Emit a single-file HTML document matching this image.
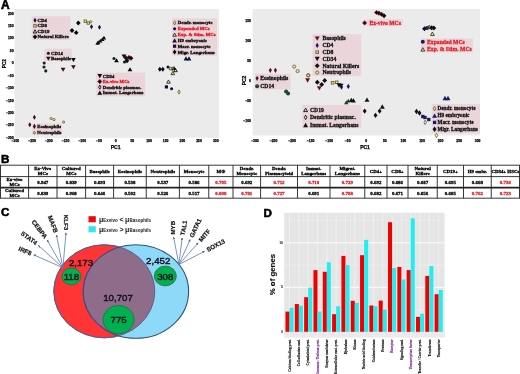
<!DOCTYPE html>
<html><head><meta charset="utf-8"><title>Figure</title>
<style>html,body{margin:0;padding:0;background:#fff;} body{width:520px;height:374px;overflow:hidden;} svg{display:block;will-change:transform;filter:blur(0.3px);}</style>
</head><body>
<svg width="520" height="374" viewBox="0 0 520 374">
<rect width="520" height="374" fill="#fff"/>
<text x="0.9" y="8.6" font-size="12" stroke="#000" stroke-width="0.55" style="font-family:'Liberation Sans',sans-serif;font-weight:bold">A</text>
<rect x="14.6" y="9" width="204.4" height="128.8" fill="#ebebeb"/>
<text x="13.6" y="138.90" font-size="3.4" text-anchor="end" stroke="#000" stroke-width="0.25" style="font-family:'Liberation Sans',sans-serif;font-weight:bold">&#8722;300</text>
<text x="13.6" y="126.46" font-size="3.4" text-anchor="end" stroke="#000" stroke-width="0.25" style="font-family:'Liberation Sans',sans-serif;font-weight:bold">&#8722;250</text>
<text x="13.6" y="114.02" font-size="3.4" text-anchor="end" stroke="#000" stroke-width="0.25" style="font-family:'Liberation Sans',sans-serif;font-weight:bold">&#8722;200</text>
<text x="13.6" y="101.58" font-size="3.4" text-anchor="end" stroke="#000" stroke-width="0.25" style="font-family:'Liberation Sans',sans-serif;font-weight:bold">&#8722;150</text>
<text x="13.6" y="89.14" font-size="3.4" text-anchor="end" stroke="#000" stroke-width="0.25" style="font-family:'Liberation Sans',sans-serif;font-weight:bold">&#8722;100</text>
<text x="13.6" y="76.70" font-size="3.4" text-anchor="end" stroke="#000" stroke-width="0.25" style="font-family:'Liberation Sans',sans-serif;font-weight:bold">&#8722;50</text>
<text x="13.6" y="64.26" font-size="3.4" text-anchor="end" stroke="#000" stroke-width="0.25" style="font-family:'Liberation Sans',sans-serif;font-weight:bold">0</text>
<text x="13.6" y="51.82" font-size="3.4" text-anchor="end" stroke="#000" stroke-width="0.25" style="font-family:'Liberation Sans',sans-serif;font-weight:bold">50</text>
<text x="13.6" y="39.38" font-size="3.4" text-anchor="end" stroke="#000" stroke-width="0.25" style="font-family:'Liberation Sans',sans-serif;font-weight:bold">100</text>
<text x="13.6" y="26.94" font-size="3.4" text-anchor="end" stroke="#000" stroke-width="0.25" style="font-family:'Liberation Sans',sans-serif;font-weight:bold">150</text>
<text x="13.6" y="14.50" font-size="3.4" text-anchor="end" stroke="#000" stroke-width="0.25" style="font-family:'Liberation Sans',sans-serif;font-weight:bold">200</text>
<text x="15.43" y="141.90" font-size="3.4" text-anchor="middle" stroke="#000" stroke-width="0.25" style="font-family:'Liberation Sans',sans-serif;font-weight:bold">&#8722;300</text>
<text x="32.12" y="141.90" font-size="3.4" text-anchor="middle" stroke="#000" stroke-width="0.25" style="font-family:'Liberation Sans',sans-serif;font-weight:bold">&#8722;250</text>
<text x="48.82" y="141.90" font-size="3.4" text-anchor="middle" stroke="#000" stroke-width="0.25" style="font-family:'Liberation Sans',sans-serif;font-weight:bold">&#8722;200</text>
<text x="65.52" y="141.90" font-size="3.4" text-anchor="middle" stroke="#000" stroke-width="0.25" style="font-family:'Liberation Sans',sans-serif;font-weight:bold">&#8722;150</text>
<text x="82.21" y="141.90" font-size="3.4" text-anchor="middle" stroke="#000" stroke-width="0.25" style="font-family:'Liberation Sans',sans-serif;font-weight:bold">&#8722;100</text>
<text x="98.91" y="141.90" font-size="3.4" text-anchor="middle" stroke="#000" stroke-width="0.25" style="font-family:'Liberation Sans',sans-serif;font-weight:bold">&#8722;50</text>
<text x="115.60" y="141.90" font-size="3.4" text-anchor="middle" stroke="#000" stroke-width="0.25" style="font-family:'Liberation Sans',sans-serif;font-weight:bold">0</text>
<text x="132.29" y="141.90" font-size="3.4" text-anchor="middle" stroke="#000" stroke-width="0.25" style="font-family:'Liberation Sans',sans-serif;font-weight:bold">50</text>
<text x="148.99" y="141.90" font-size="3.4" text-anchor="middle" stroke="#000" stroke-width="0.25" style="font-family:'Liberation Sans',sans-serif;font-weight:bold">100</text>
<text x="165.69" y="141.90" font-size="3.4" text-anchor="middle" stroke="#000" stroke-width="0.25" style="font-family:'Liberation Sans',sans-serif;font-weight:bold">150</text>
<text x="182.38" y="141.90" font-size="3.4" text-anchor="middle" stroke="#000" stroke-width="0.25" style="font-family:'Liberation Sans',sans-serif;font-weight:bold">200</text>
<text x="199.07" y="141.90" font-size="3.4" text-anchor="middle" stroke="#000" stroke-width="0.25" style="font-family:'Liberation Sans',sans-serif;font-weight:bold">250</text>
<text x="215.77" y="141.90" font-size="3.4" text-anchor="middle" stroke="#000" stroke-width="0.25" style="font-family:'Liberation Sans',sans-serif;font-weight:bold">300</text>
<text x="115.6" y="149.1" font-size="5" text-anchor="middle" stroke="#000" stroke-width="0.25" style="font-family:'Liberation Sans',sans-serif;font-weight:bold">PC1</text>
<text transform="translate(5.8 63.6) rotate(-90)" font-size="4.7" text-anchor="middle" stroke="#000" stroke-width="0.25" style="font-family:'Liberation Sans',sans-serif;font-weight:bold">PC2</text>
<rect x="31.8" y="16.3" width="38.50" height="23.60" fill="#e9d5da"/>
<path d="M35.00 17.77L36.54 20.30L35.00 22.83L33.46 20.30Z" fill="#101040"/>
<text x="37.6" y="21.88" font-size="4.8" fill="#111" stroke="#111" stroke-width="0.34" style="font-family:'Liberation Serif',serif;font-weight:bold">CD4</text>
<rect x="33.80" y="24.61" width="2.39" height="2.39" fill="none" stroke="#6e6622" stroke-width="0.94"/>
<text x="37.6" y="27.38" font-size="4.8" fill="#111" stroke="#111" stroke-width="0.34" style="font-family:'Liberation Serif',serif;font-weight:bold">CD8</text>
<path d="M35.00 29.77L36.82 32.98L33.18 32.98Z" fill="none" stroke="#080808" stroke-width="0.88" stroke-linejoin="round"/>
<text x="37.6" y="32.88" font-size="4.8" fill="#111" stroke="#111" stroke-width="0.34" style="font-family:'Liberation Serif',serif;font-weight:bold">CD19</text>
<path d="M35.00 34.38L37.31 36.80L35.00 39.22L32.69 36.80Z" fill="#080808"/>
<text x="37.6" y="38.38" font-size="4.8" fill="#111" stroke="#111" stroke-width="0.34" style="font-family:'Liberation Serif',serif;font-weight:bold">Natural Killers</text>
<rect x="44.5" y="48.6" width="27.10" height="12.40" fill="#e9d5da"/>
<circle cx="48.40" cy="53.20" r="1.54" fill="#0e2616"/>
<text x="51.1" y="54.78" font-size="4.8" fill="#111" stroke="#111" stroke-width="0.34" style="font-family:'Liberation Serif',serif;font-weight:bold">CD14</text>
<path d="M46.03 56.77L50.77 56.77L48.40 60.84Z" fill="#3e0e16"/>
<text x="51.1" y="60.38" font-size="4.8" fill="#111" stroke="#111" stroke-width="0.34" style="font-family:'Liberation Serif',serif;font-weight:bold">Basophils</text>
<rect x="96.3" y="72.6" width="48.80" height="23.70" fill="#e9d5da"/>
<path d="M97.44 74.06L102.16 74.06L99.80 78.13Z" fill="#080808"/>
<text x="102.7" y="77.68" font-size="4.8" fill="#111" stroke="#111" stroke-width="0.34" style="font-family:'Liberation Serif',serif;font-weight:bold">CD34</text>
<path d="M99.80 79.41L101.89 81.60L99.80 83.79L97.71 81.60Z" fill="#1a0508" stroke="#5a1420" stroke-width="0.55"/>
<text x="102.7" y="83.18" font-size="4.8" fill="#e0202a" stroke="#e0202a" stroke-width="0.34" style="font-family:'Liberation Serif',serif;font-weight:bold">Ex-vivo MCs</text>
<path d="M99.80 85.02L100.99 87.10L99.80 89.18L98.61 87.10Z" fill="none" stroke="#080808" stroke-width="0.88"/>
<text x="102.7" y="88.68" font-size="4.8" fill="#111" stroke="#111" stroke-width="0.34" style="font-family:'Liberation Serif',serif;font-weight:bold">Dendritic plasmac.</text>
<path d="M99.80 90.56L102.16 94.63L97.44 94.63Z" fill="#080808"/>
<text x="102.7" y="94.18" font-size="4.8" fill="#111" stroke="#111" stroke-width="0.34" style="font-family:'Liberation Serif',serif;font-weight:bold">Immat. Langerhans</text>
<rect x="172.0" y="18.4" width="45.00" height="37.20" fill="#e9d5da"/>
<path d="M174.60 20.82L175.79 22.90L174.60 24.98L173.41 22.90Z" fill="none" stroke="#6e6622" stroke-width="0.88"/>
<text x="177.8" y="24.48" font-size="4.8" fill="#111" stroke="#111" stroke-width="0.34" style="font-family:'Liberation Serif',serif;font-weight:bold">Dendr. monocyte</text>
<circle cx="174.60" cy="28.72" r="1.54" fill="#101040"/>
<text x="177.8" y="30.30" font-size="4.8" fill="#e0202a" stroke="#e0202a" stroke-width="0.34" style="font-family:'Liberation Serif',serif;font-weight:bold">Expanded MCs</text>
<path d="M174.60 33.00L176.41 36.23L172.78 36.23Z" fill="none" stroke="#2a2a0a" stroke-width="0.88" stroke-linejoin="round"/>
<text x="177.8" y="36.12" font-size="4.8" fill="#e0202a" stroke="#e0202a" stroke-width="0.34" style="font-family:'Liberation Serif',serif;font-weight:bold">Exp. &amp; Stim. MCs</text>
<path d="M174.60 38.33L176.97 42.39L172.23 42.39Z" fill="#101040"/>
<text x="177.8" y="41.94" font-size="4.8" fill="#111" stroke="#111" stroke-width="0.34" style="font-family:'Liberation Serif',serif;font-weight:bold">H9 embryonic</text>
<rect x="173.00" y="44.59" width="3.19" height="3.19" fill="#101040"/>
<text x="177.8" y="47.76" font-size="4.8" fill="#111" stroke="#111" stroke-width="0.34" style="font-family:'Liberation Serif',serif;font-weight:bold">Macr. monocyte</text>
<path d="M174.60 49.47L176.47 52.00L174.60 54.53L172.73 52.00Z" fill="#080808"/>
<text x="177.8" y="53.58" font-size="4.8" fill="#111" stroke="#111" stroke-width="0.34" style="font-family:'Liberation Serif',serif;font-weight:bold">Migr. Langerhans</text>
<rect x="32.1" y="123.6" width="30.00" height="11.00" fill="#e9d5da"/>
<path d="M34.40 123.87L35.94 126.40L34.40 128.93L32.86 126.40Z" fill="#3e0e16"/>
<text x="37.3" y="127.98" font-size="4.8" fill="#111" stroke="#111" stroke-width="0.34" style="font-family:'Liberation Serif',serif;font-weight:bold">Eosinophils</text>
<circle cx="34.40" cy="132.80" r="1.09" fill="none" stroke="#6e6622" stroke-width="0.94"/>
<text x="37.3" y="134.38" font-size="4.8" fill="#111" stroke="#111" stroke-width="0.34" style="font-family:'Liberation Serif',serif;font-weight:bold">Neutrophils</text>
<path d="M78.30 20.58L80.61 23.00L78.30 25.42L75.99 23.00Z" fill="#080808"/>
<path d="M72.00 28.08L74.31 30.50L72.00 32.92L69.69 30.50Z" fill="#080808"/>
<path d="M76.20 30.28L78.51 32.70L76.20 35.12L73.89 32.70Z" fill="#080808"/>
<rect x="84.11" y="20.00" width="2.39" height="2.39" fill="none" stroke="#6e6622" stroke-width="0.94"/>
<rect x="87.11" y="21.80" width="2.39" height="2.39" fill="none" stroke="#6e6622" stroke-width="0.94"/>
<circle cx="90.70" cy="21.80" r="1.09" fill="none" stroke="#6e6622" stroke-width="0.94"/>
<path d="M91.50 24.17L93.04 26.70L91.50 29.23L89.96 26.70Z" fill="#101040"/>
<path d="M99.50 24.77L101.04 27.30L99.50 29.83L97.96 27.30Z" fill="#101040"/>
<path d="M98.20 40.33L100.38 44.07L96.02 44.07Z" fill="#0a160d"/>
<path d="M100.30 38.73L102.48 42.47L98.12 42.47Z" fill="#0a160d"/>
<path d="M102.40 37.33L104.58 41.07L100.22 41.07Z" fill="#0a160d"/>
<path d="M104.00 35.73L106.18 39.47L101.82 39.47Z" fill="#0a160d"/>
<path d="M97.50 41.13L99.68 44.87L95.32 44.87Z" fill="#0a160d"/>
<circle cx="44.20" cy="63.00" r="1.54" fill="#0e2616"/>
<circle cx="44.00" cy="67.00" r="1.54" fill="#0e2616"/>
<circle cx="45.80" cy="70.90" r="1.54" fill="#0e2616"/>
<path d="M60.73 67.67L65.47 67.67L63.10 71.73Z" fill="#3e0e16"/>
<path d="M71.04 65.27L75.77 65.27L73.40 69.33Z" fill="#3e0e16"/>
<path d="M71.04 57.97L75.77 57.97L73.40 62.03Z" fill="#080808"/>
<circle cx="114.00" cy="58.50" r="1.54" fill="#0e2616"/>
<path d="M116.50 58.27L118.86 62.33L114.14 62.33Z" fill="#080808"/>
<path d="M121.64 54.47L126.36 54.47L124.00 58.53Z" fill="#080808"/>
<path d="M126.00 55.81L128.09 58.00L126.00 60.19L123.91 58.00Z" fill="#1a0508" stroke="#5a1420" stroke-width="0.55"/>
<path d="M129.00 55.31L131.09 57.50L129.00 59.69L126.91 57.50Z" fill="#1a0508" stroke="#5a1420" stroke-width="0.55"/>
<path d="M131.00 56.01L133.09 58.20L131.00 60.39L128.91 58.20Z" fill="#1a0508" stroke="#5a1420" stroke-width="0.55"/>
<circle cx="124.50" cy="62.00" r="1.54" fill="#0e2616"/>
<path d="M127.00 58.38L129.31 60.80L127.00 63.22L124.69 60.80Z" fill="#080808"/>
<path d="M130.00 67.17L132.37 71.23L127.64 71.23Z" fill="#080808"/>
<path d="M186.00 56.36L188.37 60.44L183.63 60.44Z" fill="#101040"/>
<path d="M189.00 56.36L191.37 60.44L186.63 60.44Z" fill="#101040"/>
<path d="M159.80 66.67L161.67 69.20L159.80 71.73L157.93 69.20Z" fill="#080808"/>
<path d="M162.80 66.67L164.67 69.20L162.80 71.73L160.93 69.20Z" fill="#080808"/>
<circle cx="168.00" cy="67.00" r="1.54" fill="#101040"/>
<rect x="169.31" y="67.31" width="2.39" height="2.39" fill="none" stroke="#6e6622" stroke-width="0.94"/>
<path d="M174.00 65.97L176.37 70.03L171.63 70.03Z" fill="#080808"/>
<path d="M175.50 68.47L177.31 71.69L173.69 71.69Z" fill="none" stroke="#080808" stroke-width="0.88" stroke-linejoin="round"/>
<path d="M172.50 66.92L173.69 69.00L172.50 71.08L171.31 69.00Z" fill="none" stroke="#6e6622" stroke-width="0.88"/>
<path d="M172.80 71.47L174.62 74.69L170.99 74.69Z" fill="none" stroke="#2a2a0a" stroke-width="0.88" stroke-linejoin="round"/>
<path d="M168.50 79.97L170.31 83.19L166.69 83.19Z" fill="none" stroke="#2a2a0a" stroke-width="0.88" stroke-linejoin="round"/>
<rect x="164.81" y="85.31" width="3.19" height="3.19" fill="#101040"/>
<circle cx="171.60" cy="88.70" r="1.54" fill="#101040"/>
<path d="M179.00 89.92L180.19 92.00L179.00 94.08L177.81 92.00Z" fill="none" stroke="#6e6622" stroke-width="0.88"/>
<path d="M34.40 114.77L35.94 117.30L34.40 119.83L32.86 117.30Z" fill="#3e0e16"/>
<path d="M29.80 122.27L31.34 124.80L29.80 127.33L28.26 124.80Z" fill="#3e0e16"/>
<circle cx="51.10" cy="118.50" r="1.09" fill="none" stroke="#6e6622" stroke-width="0.94"/>
<circle cx="54.00" cy="119.60" r="1.09" fill="none" stroke="#6e6622" stroke-width="0.94"/>
<circle cx="63.60" cy="122.10" r="1.09" fill="none" stroke="#6e6622" stroke-width="0.94"/>
<rect x="252.6" y="9" width="227.4" height="126.5" fill="#ebebeb"/>
<text x="251" y="122.40" font-size="3.4" text-anchor="end" stroke="#000" stroke-width="0.25" style="font-family:'Liberation Sans',sans-serif;font-weight:bold">&#8722;100</text>
<text x="251" y="102.40" font-size="3.4" text-anchor="end" stroke="#000" stroke-width="0.25" style="font-family:'Liberation Sans',sans-serif;font-weight:bold">&#8722;50</text>
<text x="251" y="82.40" font-size="3.4" text-anchor="end" stroke="#000" stroke-width="0.25" style="font-family:'Liberation Sans',sans-serif;font-weight:bold">0</text>
<text x="251" y="62.40" font-size="3.4" text-anchor="end" stroke="#000" stroke-width="0.25" style="font-family:'Liberation Sans',sans-serif;font-weight:bold">50</text>
<text x="251" y="42.40" font-size="3.4" text-anchor="end" stroke="#000" stroke-width="0.25" style="font-family:'Liberation Sans',sans-serif;font-weight:bold">100</text>
<text x="251" y="22.40" font-size="3.4" text-anchor="end" stroke="#000" stroke-width="0.25" style="font-family:'Liberation Sans',sans-serif;font-weight:bold">150</text>
<text x="254.94" y="141.8" font-size="3.4" text-anchor="middle" stroke="#000" stroke-width="0.25" style="font-family:'Liberation Sans',sans-serif;font-weight:bold">&#8722;300</text>
<text x="273.50" y="141.8" font-size="3.4" text-anchor="middle" stroke="#000" stroke-width="0.25" style="font-family:'Liberation Sans',sans-serif;font-weight:bold">&#8722;250</text>
<text x="292.06" y="141.8" font-size="3.4" text-anchor="middle" stroke="#000" stroke-width="0.25" style="font-family:'Liberation Sans',sans-serif;font-weight:bold">&#8722;200</text>
<text x="310.62" y="141.8" font-size="3.4" text-anchor="middle" stroke="#000" stroke-width="0.25" style="font-family:'Liberation Sans',sans-serif;font-weight:bold">&#8722;150</text>
<text x="329.18" y="141.8" font-size="3.4" text-anchor="middle" stroke="#000" stroke-width="0.25" style="font-family:'Liberation Sans',sans-serif;font-weight:bold">&#8722;100</text>
<text x="347.74" y="141.8" font-size="3.4" text-anchor="middle" stroke="#000" stroke-width="0.25" style="font-family:'Liberation Sans',sans-serif;font-weight:bold">&#8722;50</text>
<text x="366.30" y="141.8" font-size="3.4" text-anchor="middle" stroke="#000" stroke-width="0.25" style="font-family:'Liberation Sans',sans-serif;font-weight:bold">0</text>
<text x="384.86" y="141.8" font-size="3.4" text-anchor="middle" stroke="#000" stroke-width="0.25" style="font-family:'Liberation Sans',sans-serif;font-weight:bold">50</text>
<text x="403.42" y="141.8" font-size="3.4" text-anchor="middle" stroke="#000" stroke-width="0.25" style="font-family:'Liberation Sans',sans-serif;font-weight:bold">100</text>
<text x="421.98" y="141.8" font-size="3.4" text-anchor="middle" stroke="#000" stroke-width="0.25" style="font-family:'Liberation Sans',sans-serif;font-weight:bold">150</text>
<text x="440.54" y="141.8" font-size="3.4" text-anchor="middle" stroke="#000" stroke-width="0.25" style="font-family:'Liberation Sans',sans-serif;font-weight:bold">200</text>
<text x="459.10" y="141.8" font-size="3.4" text-anchor="middle" stroke="#000" stroke-width="0.25" style="font-family:'Liberation Sans',sans-serif;font-weight:bold">250</text>
<text x="477.66" y="141.8" font-size="3.4" text-anchor="middle" stroke="#000" stroke-width="0.25" style="font-family:'Liberation Sans',sans-serif;font-weight:bold">300</text>
<text x="365" y="148.5" font-size="5" text-anchor="middle" stroke="#000" stroke-width="0.25" style="font-family:'Liberation Sans',sans-serif;font-weight:bold">PC1</text>
<text transform="translate(245.5 80.5) rotate(-90)" font-size="5" text-anchor="middle" stroke="#000" stroke-width="0.25" style="font-family:'Liberation Sans',sans-serif;font-weight:bold">PC2</text>
<rect x="312.6" y="34.3" width="48.70" height="41.70" fill="#e9d5da"/>
<path d="M314.73 36.47L319.67 36.47L317.20 40.73Z" fill="#641222"/>
<text x="322.4" y="40.48" font-size="5.7" fill="#111" stroke="#111" stroke-width="0.28" style="font-family:'Liberation Serif',serif;font-weight:bold">Basophils</text>
<path d="M317.20 42.75L318.81 45.40L317.20 48.05L315.59 45.40Z" fill="#1a1a60"/>
<text x="322.4" y="47.28" font-size="5.7" fill="#111" stroke="#111" stroke-width="0.28" style="font-family:'Liberation Serif',serif;font-weight:bold">CD4</text>
<rect x="315.93" y="50.93" width="2.53" height="2.53" fill="none" stroke="#756c24" stroke-width="0.98"/>
<text x="322.4" y="54.08" font-size="5.7" fill="#111" stroke="#111" stroke-width="0.28" style="font-family:'Liberation Serif',serif;font-weight:bold">CD8</text>
<path d="M314.73 56.87L319.67 56.87L317.20 61.13Z" fill="#111"/>
<text x="322.4" y="60.88" font-size="5.7" fill="#111" stroke="#111" stroke-width="0.28" style="font-family:'Liberation Serif',serif;font-weight:bold">CD34</text>
<path d="M317.20 63.27L319.62 65.80L317.20 68.33L314.78 65.80Z" fill="#111"/>
<text x="322.4" y="67.68" font-size="5.7" fill="#111" stroke="#111" stroke-width="0.28" style="font-family:'Liberation Serif',serif;font-weight:bold">Natural Killers</text>
<circle cx="317.20" cy="72.60" r="1.56" fill="none" stroke="#756c24" stroke-width="0.98"/>
<text x="322.4" y="74.48" font-size="5.7" fill="#111" stroke="#111" stroke-width="0.28" style="font-family:'Liberation Serif',serif;font-weight:bold">Neutrophils</text>
<rect x="255.1" y="73.7" width="35.60" height="15.70" fill="#e9d5da"/>
<path d="M257.10 75.66L258.71 78.30L257.10 80.94L255.49 78.30Z" fill="#641222"/>
<text x="260.2" y="80.18" font-size="5.7" fill="#111" stroke="#111" stroke-width="0.28" style="font-family:'Liberation Serif',serif;font-weight:bold">Eosinophils</text>
<circle cx="257.10" cy="86.20" r="2.01" fill="#1d4a2c"/>
<text x="260.2" y="88.08" font-size="5.7" fill="#111" stroke="#111" stroke-width="0.28" style="font-family:'Liberation Serif',serif;font-weight:bold">CD14</text>
<rect x="302.3" y="105.0" width="59.00" height="23.10" fill="#e9d5da"/>
<path d="M305.60 108.17L307.52 111.58L303.68 111.58Z" fill="none" stroke="#111" stroke-width="0.92" stroke-linejoin="round"/>
<text x="310.0" y="111.68" font-size="5.7" fill="#111" stroke="#111" stroke-width="0.28" style="font-family:'Liberation Serif',serif;font-weight:bold">CD19</text>
<path d="M305.60 115.20L306.86 117.40L305.60 119.59L304.34 117.40Z" fill="none" stroke="#111" stroke-width="0.92"/>
<text x="310.0" y="119.28" font-size="5.7" fill="#111" stroke="#111" stroke-width="0.28" style="font-family:'Liberation Serif',serif;font-weight:bold">Dendritic plasmac.</text>
<path d="M305.60 122.87L308.07 127.13L303.13 127.13Z" fill="#111"/>
<text x="310.0" y="126.88" font-size="5.7" fill="#111" stroke="#111" stroke-width="0.28" style="font-family:'Liberation Serif',serif;font-weight:bold">Immat. Langerhans</text>
<rect x="431.7" y="104.0" width="48.30" height="29.20" fill="#e9d5da"/>
<path d="M434.60 106.51L435.86 108.70L434.60 110.89L433.34 108.70Z" fill="none" stroke="#756c24" stroke-width="0.92"/>
<text x="437.5" y="110.43" font-size="5.25" fill="#111" stroke="#111" stroke-width="0.28" style="font-family:'Liberation Serif',serif;font-weight:bold">Dendr. monocyte</text>
<path d="M434.60 113.42L437.07 117.68L432.13 117.68Z" fill="#1a1a60"/>
<text x="437.5" y="117.28" font-size="5.25" fill="#111" stroke="#111" stroke-width="0.28" style="font-family:'Liberation Serif',serif;font-weight:bold">H9 embryonic</text>
<rect x="432.93" y="120.73" width="3.33" height="3.33" fill="#1a1a60"/>
<text x="437.5" y="124.13" font-size="5.25" fill="#111" stroke="#111" stroke-width="0.28" style="font-family:'Liberation Serif',serif;font-weight:bold">Macr. monocyte</text>
<path d="M434.60 126.61L436.56 129.25L434.60 131.90L432.65 129.25Z" fill="#111"/>
<text x="437.5" y="130.98" font-size="5.25" fill="#111" stroke="#111" stroke-width="0.28" style="font-family:'Liberation Serif',serif;font-weight:bold">Migr. Langerhans</text>
<rect x="421.0" y="38.5" width="51.80" height="13.80" fill="#e9d5da"/>
<circle cx="422.80" cy="41.80" r="2.01" fill="#1a1a60"/>
<text x="427.0" y="43.68" font-size="5.7" fill="#e0202a" stroke="#e0202a" stroke-width="0.28" style="font-family:'Liberation Serif',serif;font-weight:bold">Expanded MCs</text>
<path d="M422.80 47.67L424.72 51.08L420.88 51.08Z" fill="none" stroke="#3a3a10" stroke-width="0.92" stroke-linejoin="round"/>
<text x="427.0" y="51.18" font-size="5.7" fill="#e0202a" stroke="#e0202a" stroke-width="0.28" style="font-family:'Liberation Serif',serif;font-weight:bold">Exp. &amp; Stim. MCs</text>
<rect x="366.5" y="19.3" width="36.50" height="6.60" fill="#e9d5da"/>
<path d="M364.60 20.61L366.79 22.90L364.60 25.19L362.42 22.90Z" fill="#1a0508" stroke="#d42a3a" stroke-width="0.55"/>
<text x="369.4" y="24.76" font-size="5.65" fill="#e0202a" stroke="#e0202a" stroke-width="0.28" style="font-family:'Liberation Serif',serif;font-weight:bold">Ex-vivo MCs</text>
<path d="M376.50 10.21L378.69 12.50L376.50 14.79L374.31 12.50Z" fill="#1a0508" stroke="#d42a3a" stroke-width="0.55"/>
<path d="M379.00 10.77L381.42 13.30L379.00 15.83L376.58 13.30Z" fill="#111"/>
<path d="M381.50 12.01L383.69 14.30L381.50 16.59L379.31 14.30Z" fill="#1a0508" stroke="#d42a3a" stroke-width="0.55"/>
<path d="M384.00 13.27L386.42 15.80L384.00 18.33L381.58 15.80Z" fill="#111"/>
<path d="M424.50 26.27L426.92 28.80L424.50 31.33L422.08 28.80Z" fill="#111"/>
<circle cx="427.00" cy="28.00" r="2.01" fill="#1a1a60"/>
<path d="M429.20 25.17L431.12 28.58L427.28 28.58Z" fill="none" stroke="#3a3a10" stroke-width="0.92" stroke-linejoin="round"/>
<path d="M431.50 25.27L433.92 27.80L431.50 30.33L429.08 27.80Z" fill="#111"/>
<path d="M433.80 25.47L436.22 28.00L433.80 30.53L431.38 28.00Z" fill="#111"/>
<path d="M432.40 32.07L434.32 35.48L430.48 35.48Z" fill="none" stroke="#3a3a10" stroke-width="0.92" stroke-linejoin="round"/>
<path d="M270.30 67.66L271.91 70.30L270.30 72.94L268.69 70.30Z" fill="#641222"/>
<path d="M275.40 67.66L277.01 70.30L275.40 72.94L273.79 70.30Z" fill="#641222"/>
<circle cx="286.10" cy="91.50" r="2.01" fill="#1d4a2c"/>
<circle cx="288.10" cy="93.50" r="2.01" fill="#1d4a2c"/>
<circle cx="294.20" cy="66.60" r="1.56" fill="none" stroke="#756c24" stroke-width="0.98"/>
<circle cx="297.60" cy="71.10" r="1.56" fill="none" stroke="#756c24" stroke-width="0.98"/>
<circle cx="308.50" cy="75.40" r="1.56" fill="none" stroke="#756c24" stroke-width="0.98"/>
<circle cx="308.00" cy="75.30" r="1.56" fill="none" stroke="#756c24" stroke-width="0.98"/>
<path d="M305.13 78.37L310.07 78.37L307.60 82.63Z" fill="#641222"/>
<path d="M316.83 86.17L321.77 86.17L319.30 90.43Z" fill="#641222"/>
<path d="M317.30 79.77L319.72 82.30L317.30 84.83L314.88 82.30Z" fill="#111"/>
<path d="M321.70 81.97L324.12 84.50L321.70 87.03L319.28 84.50Z" fill="#111"/>
<path d="M324.70 77.97L327.12 80.50L324.70 83.03L322.28 80.50Z" fill="#111"/>
<rect x="331.33" y="81.53" width="2.53" height="2.53" fill="none" stroke="#756c24" stroke-width="0.98"/>
<rect x="335.43" y="81.03" width="2.53" height="2.53" fill="none" stroke="#756c24" stroke-width="0.98"/>
<path d="M336.53 83.37L341.47 83.37L339.00 87.63Z" fill="#111"/>
<path d="M341.50 84.36L343.11 87.00L341.50 89.64L339.89 87.00Z" fill="#1a1a60"/>
<path d="M338.53 83.87L343.47 83.87L341.00 88.13Z" fill="#111"/>
<path d="M348.30 83.76L349.91 86.40L348.30 89.05L346.69 86.40Z" fill="#1a1a60"/>
<path d="M346.30 100.24L348.57 104.16L344.03 104.16Z" fill="#1c4428"/>
<path d="M348.30 98.64L350.57 102.56L346.03 102.56Z" fill="#1c4428"/>
<path d="M351.30 97.67L353.77 101.93L348.83 101.93Z" fill="#111"/>
<path d="M353.40 98.27L355.87 102.53L350.93 102.53Z" fill="#111"/>
<path d="M367.00 97.57L369.47 101.83L364.53 101.83Z" fill="#111"/>
<path d="M364.70 108.45L366.65 111.10L364.70 113.74L362.75 111.10Z" fill="#111"/>
<path d="M382.30 104.37L384.77 108.63L379.83 108.63Z" fill="#111"/>
<path d="M379.60 108.45L381.56 111.10L379.60 113.74L377.65 111.10Z" fill="#111"/>
<path d="M375.50 112.66L377.45 115.30L375.50 117.94L373.55 115.30Z" fill="#111"/>
<path d="M445.00 95.87L447.47 100.13L442.53 100.13Z" fill="#1a1a60"/>
<path d="M448.00 95.87L450.47 100.13L445.53 100.13Z" fill="#1a1a60"/>
<path d="M416.50 108.86L418.45 111.50L416.50 114.14L414.55 111.50Z" fill="#111"/>
<path d="M419.50 110.36L421.45 113.00L419.50 115.64L417.55 113.00Z" fill="#111"/>
<rect x="421.13" y="114.83" width="3.33" height="3.33" fill="#1a1a60"/>
<rect x="423.33" y="115.83" width="3.33" height="3.33" fill="#1a1a60"/>
<rect x="427.13" y="117.83" width="3.33" height="3.33" fill="#1a1a60"/>
<path d="M425.20 120.21L426.46 122.40L425.20 124.59L423.94 122.40Z" fill="none" stroke="#756c24" stroke-width="0.92"/>
<path d="M436.50 133.30L437.76 135.50L436.50 137.70L435.24 135.50Z" fill="none" stroke="#756c24" stroke-width="0.92"/>
<text x="1.1" y="163.2" font-size="11.6" stroke="#000" stroke-width="0.55" style="font-family:'Liberation Sans',sans-serif;font-weight:bold">B</text>
<rect x="0" y="164.7" width="520" height="34.0" fill="#fff"/>
<text x="14.55" y="172.60" font-size="4.9" text-anchor="middle" stroke="#000" stroke-width="0.3" style="font-family:'Liberation Serif',serif;font-weight:bold"></text>
<text x="42.80" y="170.20" font-size="4.9" text-anchor="middle" stroke="#000" stroke-width="0.3" style="font-family:'Liberation Serif',serif;font-weight:bold">Ex-Vivo</text>
<text x="42.80" y="175.40" font-size="4.9" text-anchor="middle" stroke="#000" stroke-width="0.3" style="font-family:'Liberation Serif',serif;font-weight:bold">MCs</text>
<text x="71.30" y="170.20" font-size="4.9" text-anchor="middle" stroke="#000" stroke-width="0.3" style="font-family:'Liberation Serif',serif;font-weight:bold">Cultured</text>
<text x="71.30" y="175.40" font-size="4.9" text-anchor="middle" stroke="#000" stroke-width="0.3" style="font-family:'Liberation Serif',serif;font-weight:bold">MCs</text>
<text x="99.60" y="172.60" font-size="4.9" text-anchor="middle" stroke="#000" stroke-width="0.3" style="font-family:'Liberation Serif',serif;font-weight:bold">Basophils</text>
<text x="129.93" y="172.60" font-size="4.9" text-anchor="middle" stroke="#000" stroke-width="0.3" style="font-family:'Liberation Serif',serif;font-weight:bold">Eosinophils</text>
<text x="162.82" y="172.60" font-size="4.9" text-anchor="middle" stroke="#000" stroke-width="0.3" style="font-family:'Liberation Serif',serif;font-weight:bold">Neutrophils</text>
<text x="194.07" y="172.60" font-size="4.9" text-anchor="middle" stroke="#000" stroke-width="0.3" style="font-family:'Liberation Serif',serif;font-weight:bold">Monocyte</text>
<text x="220.88" y="172.60" font-size="4.9" text-anchor="middle" stroke="#000" stroke-width="0.3" style="font-family:'Liberation Serif',serif;font-weight:bold">M&#934;</text>
<text x="246.80" y="170.20" font-size="4.9" text-anchor="middle" stroke="#000" stroke-width="0.3" style="font-family:'Liberation Serif',serif;font-weight:bold">Dendr.</text>
<text x="246.80" y="175.40" font-size="4.9" text-anchor="middle" stroke="#000" stroke-width="0.3" style="font-family:'Liberation Serif',serif;font-weight:bold">Monocyte</text>
<text x="279.05" y="170.20" font-size="4.9" text-anchor="middle" stroke="#000" stroke-width="0.3" style="font-family:'Liberation Serif',serif;font-weight:bold">Dendr.</text>
<text x="279.05" y="175.40" font-size="4.9" text-anchor="middle" stroke="#000" stroke-width="0.3" style="font-family:'Liberation Serif',serif;font-weight:bold">Plasmacytoid</text>
<text x="313.75" y="170.20" font-size="4.9" text-anchor="middle" stroke="#000" stroke-width="0.3" style="font-family:'Liberation Serif',serif;font-weight:bold">Immat.</text>
<text x="313.75" y="175.40" font-size="4.9" text-anchor="middle" stroke="#000" stroke-width="0.3" style="font-family:'Liberation Serif',serif;font-weight:bold">Langerhans</text>
<text x="347.38" y="170.20" font-size="4.9" text-anchor="middle" stroke="#000" stroke-width="0.3" style="font-family:'Liberation Serif',serif;font-weight:bold">Migrat.</text>
<text x="347.38" y="175.40" font-size="4.9" text-anchor="middle" stroke="#000" stroke-width="0.3" style="font-family:'Liberation Serif',serif;font-weight:bold">Langerhans</text>
<text x="375.88" y="172.60" font-size="4.9" text-anchor="middle" stroke="#000" stroke-width="0.3" style="font-family:'Liberation Serif',serif;font-weight:bold">CD4+</text>
<text x="397.50" y="172.60" font-size="4.9" text-anchor="middle" stroke="#000" stroke-width="0.3" style="font-family:'Liberation Serif',serif;font-weight:bold">CD8+</text>
<text x="422.62" y="170.20" font-size="4.9" text-anchor="middle" stroke="#000" stroke-width="0.3" style="font-family:'Liberation Serif',serif;font-weight:bold">Natural</text>
<text x="422.62" y="175.40" font-size="4.9" text-anchor="middle" stroke="#000" stroke-width="0.3" style="font-family:'Liberation Serif',serif;font-weight:bold">Killers</text>
<text x="450.38" y="172.60" font-size="4.9" text-anchor="middle" stroke="#000" stroke-width="0.3" style="font-family:'Liberation Serif',serif;font-weight:bold">CD19+</text>
<text x="477.38" y="172.60" font-size="4.9" text-anchor="middle" stroke="#000" stroke-width="0.3" style="font-family:'Liberation Serif',serif;font-weight:bold">H9 embr.</text>
<text x="505.38" y="172.60" font-size="4.9" text-anchor="middle" stroke="#000" stroke-width="0.3" style="font-family:'Liberation Serif',serif;font-weight:bold">CD34+ HSCs</text>
<text x="14.55" y="181.4" font-size="4.9" text-anchor="middle" stroke="#000" stroke-width="0.3" style="font-family:'Liberation Serif',serif;font-weight:bold">Ex-vivo</text>
<text x="14.55" y="186.2" font-size="4.9" text-anchor="middle" stroke="#000" stroke-width="0.3" style="font-family:'Liberation Serif',serif;font-weight:bold">MCs</text>
<text x="14.55" y="191.9" font-size="4.9" text-anchor="middle" stroke="#000" stroke-width="0.3" style="font-family:'Liberation Serif',serif;font-weight:bold">Cultured</text>
<text x="14.55" y="196.7" font-size="4.9" text-anchor="middle" stroke="#000" stroke-width="0.3" style="font-family:'Liberation Serif',serif;font-weight:bold">MCs</text>
<text x="42.80" y="183.70" font-size="4.9" fill="#000" text-anchor="middle" stroke="#000" stroke-width="0.3" style="font-family:'Liberation Serif',serif;font-weight:bold">0.947</text>
<text x="71.30" y="183.70" font-size="4.9" fill="#000" text-anchor="middle" stroke="#000" stroke-width="0.3" style="font-family:'Liberation Serif',serif;font-weight:bold">0.839</text>
<text x="99.60" y="183.70" font-size="4.9" fill="#000" text-anchor="middle" stroke="#000" stroke-width="0.3" style="font-family:'Liberation Serif',serif;font-weight:bold">0.693</text>
<text x="129.93" y="183.70" font-size="4.9" fill="#000" text-anchor="middle" stroke="#000" stroke-width="0.3" style="font-family:'Liberation Serif',serif;font-weight:bold">0.538</text>
<text x="162.82" y="183.70" font-size="4.9" fill="#000" text-anchor="middle" stroke="#000" stroke-width="0.3" style="font-family:'Liberation Serif',serif;font-weight:bold">0.537</text>
<text x="194.07" y="183.70" font-size="4.9" fill="#000" text-anchor="middle" stroke="#000" stroke-width="0.3" style="font-family:'Liberation Serif',serif;font-weight:bold">0.586</text>
<text x="220.88" y="183.70" font-size="4.9" fill="#e2222c" text-anchor="middle" stroke="#e2222c" stroke-width="0.3" style="font-family:'Liberation Serif',serif;font-weight:bold">0.705</text>
<text x="246.80" y="183.70" font-size="4.9" fill="#000" text-anchor="middle" stroke="#000" stroke-width="0.3" style="font-family:'Liberation Serif',serif;font-weight:bold">0.692</text>
<text x="279.05" y="183.70" font-size="4.9" fill="#e2222c" text-anchor="middle" stroke="#e2222c" stroke-width="0.3" style="font-family:'Liberation Serif',serif;font-weight:bold">0.712</text>
<text x="313.75" y="183.70" font-size="4.9" fill="#e2222c" text-anchor="middle" stroke="#e2222c" stroke-width="0.3" style="font-family:'Liberation Serif',serif;font-weight:bold">0.718</text>
<text x="347.38" y="183.70" font-size="4.9" fill="#e2222c" text-anchor="middle" stroke="#e2222c" stroke-width="0.3" style="font-family:'Liberation Serif',serif;font-weight:bold">0.729</text>
<text x="375.88" y="183.70" font-size="4.9" fill="#000" text-anchor="middle" stroke="#000" stroke-width="0.3" style="font-family:'Liberation Serif',serif;font-weight:bold">0.692</text>
<text x="397.50" y="183.70" font-size="4.9" fill="#000" text-anchor="middle" stroke="#000" stroke-width="0.3" style="font-family:'Liberation Serif',serif;font-weight:bold">0.686</text>
<text x="422.62" y="183.70" font-size="4.9" fill="#000" text-anchor="middle" stroke="#000" stroke-width="0.3" style="font-family:'Liberation Serif',serif;font-weight:bold">0.687</text>
<text x="450.38" y="183.70" font-size="4.9" fill="#000" text-anchor="middle" stroke="#000" stroke-width="0.3" style="font-family:'Liberation Serif',serif;font-weight:bold">0.695</text>
<text x="477.38" y="183.70" font-size="4.9" fill="#000" text-anchor="middle" stroke="#000" stroke-width="0.3" style="font-family:'Liberation Serif',serif;font-weight:bold">0.668</text>
<text x="505.38" y="183.70" font-size="4.9" fill="#e2222c" text-anchor="middle" stroke="#e2222c" stroke-width="0.3" style="font-family:'Liberation Serif',serif;font-weight:bold">0.736</text>
<text x="42.80" y="194.60" font-size="4.9" fill="#000" text-anchor="middle" stroke="#000" stroke-width="0.3" style="font-family:'Liberation Serif',serif;font-weight:bold">0.839</text>
<text x="71.30" y="194.60" font-size="4.9" fill="#000" text-anchor="middle" stroke="#000" stroke-width="0.3" style="font-family:'Liberation Serif',serif;font-weight:bold">0.968</text>
<text x="99.60" y="194.60" font-size="4.9" fill="#000" text-anchor="middle" stroke="#000" stroke-width="0.3" style="font-family:'Liberation Serif',serif;font-weight:bold">0.646</text>
<text x="129.93" y="194.60" font-size="4.9" fill="#000" text-anchor="middle" stroke="#000" stroke-width="0.3" style="font-family:'Liberation Serif',serif;font-weight:bold">0.502</text>
<text x="162.82" y="194.60" font-size="4.9" fill="#000" text-anchor="middle" stroke="#000" stroke-width="0.3" style="font-family:'Liberation Serif',serif;font-weight:bold">0.526</text>
<text x="194.07" y="194.60" font-size="4.9" fill="#000" text-anchor="middle" stroke="#000" stroke-width="0.3" style="font-family:'Liberation Serif',serif;font-weight:bold">0.517</text>
<text x="220.88" y="194.60" font-size="4.9" fill="#e2222c" text-anchor="middle" stroke="#e2222c" stroke-width="0.3" style="font-family:'Liberation Serif',serif;font-weight:bold">0.808</text>
<text x="246.80" y="194.60" font-size="4.9" fill="#e2222c" text-anchor="middle" stroke="#e2222c" stroke-width="0.3" style="font-family:'Liberation Serif',serif;font-weight:bold">0.781</text>
<text x="279.05" y="194.60" font-size="4.9" fill="#e2222c" text-anchor="middle" stroke="#e2222c" stroke-width="0.3" style="font-family:'Liberation Serif',serif;font-weight:bold">0.727</text>
<text x="313.75" y="194.60" font-size="4.9" fill="#000" text-anchor="middle" stroke="#000" stroke-width="0.3" style="font-family:'Liberation Serif',serif;font-weight:bold">0.691</text>
<text x="347.38" y="194.60" font-size="4.9" fill="#e2222c" text-anchor="middle" stroke="#e2222c" stroke-width="0.3" style="font-family:'Liberation Serif',serif;font-weight:bold">0.788</text>
<text x="375.88" y="194.60" font-size="4.9" fill="#000" text-anchor="middle" stroke="#000" stroke-width="0.3" style="font-family:'Liberation Serif',serif;font-weight:bold">0.682</text>
<text x="397.50" y="194.60" font-size="4.9" fill="#000" text-anchor="middle" stroke="#000" stroke-width="0.3" style="font-family:'Liberation Serif',serif;font-weight:bold">0.671</text>
<text x="422.62" y="194.60" font-size="4.9" fill="#000" text-anchor="middle" stroke="#000" stroke-width="0.3" style="font-family:'Liberation Serif',serif;font-weight:bold">0.656</text>
<text x="450.38" y="194.60" font-size="4.9" fill="#000" text-anchor="middle" stroke="#000" stroke-width="0.3" style="font-family:'Liberation Serif',serif;font-weight:bold">0.685</text>
<text x="477.38" y="194.60" font-size="4.9" fill="#e2222c" text-anchor="middle" stroke="#e2222c" stroke-width="0.3" style="font-family:'Liberation Serif',serif;font-weight:bold">0.762</text>
<text x="505.38" y="194.60" font-size="4.9" fill="#e2222c" text-anchor="middle" stroke="#e2222c" stroke-width="0.3" style="font-family:'Liberation Serif',serif;font-weight:bold">0.723</text>
<line x1="0" y1="165.2" x2="520" y2="165.2" stroke="#222" stroke-width="0.9"/>
<line x1="0" y1="176.6" x2="520" y2="176.6" stroke="#222" stroke-width="0.9"/>
<line x1="0" y1="187.6" x2="520" y2="187.6" stroke="#222" stroke-width="1.6"/>
<line x1="0" y1="198.2" x2="520" y2="198.2" stroke="#222" stroke-width="0.9"/>
<line x1="0.5" y1="165.2" x2="0.5" y2="198.2" stroke="#222" stroke-width="0.9"/>
<line x1="28.6" y1="165.2" x2="28.6" y2="198.2" stroke="#222" stroke-width="0.9"/>
<line x1="57.0" y1="165.2" x2="57.0" y2="198.2" stroke="#222" stroke-width="0.9"/>
<line x1="85.6" y1="165.2" x2="85.6" y2="198.2" stroke="#222" stroke-width="0.9"/>
<line x1="113.6" y1="165.2" x2="113.6" y2="198.2" stroke="#222" stroke-width="0.9"/>
<line x1="146.25" y1="165.2" x2="146.25" y2="198.2" stroke="#222" stroke-width="0.9"/>
<line x1="179.4" y1="165.2" x2="179.4" y2="198.2" stroke="#222" stroke-width="0.9"/>
<line x1="208.75" y1="165.2" x2="208.75" y2="198.2" stroke="#222" stroke-width="0.9"/>
<line x1="233.0" y1="165.2" x2="233.0" y2="198.2" stroke="#222" stroke-width="0.9"/>
<line x1="260.6" y1="165.2" x2="260.6" y2="198.2" stroke="#222" stroke-width="0.9"/>
<line x1="297.5" y1="165.2" x2="297.5" y2="198.2" stroke="#222" stroke-width="0.9"/>
<line x1="330.0" y1="165.2" x2="330.0" y2="198.2" stroke="#222" stroke-width="0.9"/>
<line x1="364.75" y1="165.2" x2="364.75" y2="198.2" stroke="#222" stroke-width="0.9"/>
<line x1="387.0" y1="165.2" x2="387.0" y2="198.2" stroke="#222" stroke-width="0.9"/>
<line x1="408.0" y1="165.2" x2="408.0" y2="198.2" stroke="#222" stroke-width="0.9"/>
<line x1="437.25" y1="165.2" x2="437.25" y2="198.2" stroke="#222" stroke-width="0.9"/>
<line x1="463.5" y1="165.2" x2="463.5" y2="198.2" stroke="#222" stroke-width="0.9"/>
<line x1="491.25" y1="165.2" x2="491.25" y2="198.2" stroke="#222" stroke-width="0.9"/>
<line x1="519.5" y1="165.2" x2="519.5" y2="198.2" stroke="#222" stroke-width="0.9"/>
<text x="0.9" y="216.0" font-size="11.6" stroke="#000" stroke-width="0.55" style="font-family:'Liberation Sans',sans-serif;font-weight:bold">C</text>
<ellipse cx="104.3" cy="291.3" rx="50.5" ry="46.5" fill="#ff3535" stroke="#5a5a8a" stroke-width="0.9"/>
<ellipse cx="135.9" cy="291.5" rx="52.7" ry="46.8" fill="#8ed9f8" stroke="#2a5478" stroke-width="1.1"/>
<clipPath id="cr"><ellipse cx="104.3" cy="291.3" rx="50.5" ry="46.5"/></clipPath>
<ellipse cx="135.9" cy="291.5" rx="52.7" ry="46.8" fill="#8f6d8a" stroke="#3a4a80" stroke-width="1.0" clip-path="url(#cr)"/>
<ellipse cx="104.3" cy="291.3" rx="50.5" ry="46.5" fill="none" stroke="#5a5a8a" stroke-width="0.9"/>
<ellipse cx="71.4" cy="276.4" rx="9.6" ry="8.4" fill="#00b050" stroke="#2a6a4a" stroke-width="0.8"/>
<text x="71.4" y="279.90" font-size="9.7" text-anchor="middle" stroke="#141018" stroke-width="0.4" style="font-family:'Liberation Sans',sans-serif" fill="#141018">118</text>
<ellipse cx="165.3" cy="276.0" rx="11.0" ry="9.9" fill="#00b050" stroke="#2a6a4a" stroke-width="0.8"/>
<text x="165.3" y="279.50" font-size="9.7" text-anchor="middle" stroke="#141018" stroke-width="0.4" style="font-family:'Liberation Sans',sans-serif" fill="#141018">308</text>
<ellipse cx="118.6" cy="319.6" rx="15.6" ry="14.2" fill="#00b050" stroke="#2a6a4a" stroke-width="0.8"/>
<text x="118.6" y="323.10" font-size="9.7" text-anchor="middle" stroke="#141018" stroke-width="0.4" style="font-family:'Liberation Sans',sans-serif" fill="#141018">775</text>
<text x="81" y="265.6" font-size="9.7" text-anchor="middle" stroke="#141018" stroke-width="0.4" style="font-family:'Liberation Sans',sans-serif" fill="#141018">2,173</text>
<text x="158.2" y="264" font-size="9.7" text-anchor="middle" stroke="#141018" stroke-width="0.4" style="font-family:'Liberation Sans',sans-serif" fill="#141018">2,452</text>
<text x="118.0" y="301.4" font-size="9.7" text-anchor="middle" stroke="#141018" stroke-width="0.4" style="font-family:'Liberation Sans',sans-serif" fill="#141018">10,707</text>
<defs><marker id="ah" viewBox="0 0 6 6" refX="5" refY="3" markerWidth="3.2" markerHeight="3.2" orient="auto"><path d="M0 0L6 3L0 6Z" fill="#4a6aa8"/></marker></defs>
<line x1="62.9" y1="267.7" x2="33.7" y2="254.8" stroke="#5a78b0" stroke-width="0.8" marker-end="url(#ah)"/>
<line x1="62.9" y1="267.7" x2="38.5" y2="245.5" stroke="#5a78b0" stroke-width="0.8" marker-end="url(#ah)"/>
<line x1="62.9" y1="267.7" x2="47.2" y2="240.0" stroke="#5a78b0" stroke-width="0.8" marker-end="url(#ah)"/>
<line x1="62.9" y1="267.7" x2="56.5" y2="235.1" stroke="#5a78b0" stroke-width="0.8" marker-end="url(#ah)"/>
<line x1="62.9" y1="267.7" x2="66.0" y2="232.9" stroke="#5a78b0" stroke-width="0.8" marker-end="url(#ah)"/>
<line x1="178.9" y1="264.5" x2="173.6" y2="237.2" stroke="#5a78b0" stroke-width="0.8" marker-end="url(#ah)"/>
<line x1="178.9" y1="264.5" x2="182.1" y2="238.0" stroke="#5a78b0" stroke-width="0.8" marker-end="url(#ah)"/>
<line x1="178.9" y1="264.5" x2="190.1" y2="239.6" stroke="#5a78b0" stroke-width="0.8" marker-end="url(#ah)"/>
<line x1="178.9" y1="264.5" x2="198.1" y2="242.9" stroke="#5a78b0" stroke-width="0.8" marker-end="url(#ah)"/>
<line x1="178.9" y1="264.5" x2="204.5" y2="251.3" stroke="#5a78b0" stroke-width="0.8" marker-end="url(#ah)"/>
<text transform="translate(31.23 253.71) rotate(24.0)" font-size="6.2" text-anchor="end" dy="2.2" stroke="#111" stroke-width="0.2" style="font-family:'Liberation Sans',sans-serif;font-weight:bold" fill="#111">IRF8</text>
<text transform="translate(36.50 243.68) rotate(37.0)" font-size="6.2" text-anchor="end" dy="2.2" stroke="#111" stroke-width="0.2" style="font-family:'Liberation Sans',sans-serif;font-weight:bold" fill="#111">STAT4</text>
<text transform="translate(45.87 237.65) rotate(53.0)" font-size="6.2" text-anchor="end" dy="2.2" stroke="#111" stroke-width="0.2" style="font-family:'Liberation Sans',sans-serif;font-weight:bold" fill="#111">CEBPA</text>
<text transform="translate(55.98 232.45) rotate(70.0)" font-size="6.2" text-anchor="end" dy="2.2" stroke="#111" stroke-width="0.2" style="font-family:'Liberation Sans',sans-serif;font-weight:bold" fill="#111">MAFB</text>
<text transform="translate(66.24 230.21) rotate(90.0)" font-size="6.2" text-anchor="end" dy="2.2" stroke="#111" stroke-width="0.2" style="font-family:'Liberation Sans',sans-serif;font-weight:bold" fill="#111">KLF3</text>
<text transform="translate(173.09 234.55) rotate(-90.0)" font-size="6.2" text-anchor="start" dy="2.2" stroke="#111" stroke-width="0.2" style="font-family:'Liberation Sans',sans-serif;font-weight:bold" fill="#111">MYB</text>
<text transform="translate(182.42 235.32) rotate(-80.0)" font-size="6.2" text-anchor="start" dy="2.2" stroke="#111" stroke-width="0.2" style="font-family:'Liberation Sans',sans-serif;font-weight:bold" fill="#111">TAL1</text>
<text transform="translate(191.21 237.14) rotate(-65.0)" font-size="6.2" text-anchor="start" dy="2.2" stroke="#111" stroke-width="0.2" style="font-family:'Liberation Sans',sans-serif;font-weight:bold" fill="#111">GATA1</text>
<text transform="translate(199.89 240.88) rotate(-50.0)" font-size="6.2" text-anchor="start" dy="2.2" stroke="#111" stroke-width="0.2" style="font-family:'Liberation Sans',sans-serif;font-weight:bold" fill="#111">MITF</text>
<text transform="translate(206.90 250.06) rotate(-28.0)" font-size="6.2" text-anchor="start" dy="2.2" stroke="#111" stroke-width="0.2" style="font-family:'Liberation Sans',sans-serif;font-weight:bold" fill="#111">SOX13</text>
<rect x="88.5" y="216.2" width="7.3" height="6.1" fill="#ee0a0a"/>
<rect x="88.5" y="226.2" width="7.3" height="6.1" fill="#33e6ee"/>
<text x="99.0" y="221.8" font-size="7" style="font-family:'Liberation Sans',sans-serif;font-weight:bold" fill="#151515">&#956;<tspan font-size="4.5" dy="0.4">Exvivo</tspan><tspan dy="-0.4" dx="1.6">&lt;</tspan><tspan dx="1.6">&#956;</tspan><tspan font-size="4.5" dy="0.4">Basophils</tspan></text>
<text x="99.0" y="232.0" font-size="7" style="font-family:'Liberation Sans',sans-serif;font-weight:bold" fill="#151515">&#956;<tspan font-size="4.5" dy="0.4">Exvivo</tspan><tspan dy="-0.4" dx="1.6">&gt;</tspan><tspan dx="1.6">&#956;</tspan><tspan font-size="4.5" dy="0.4">Basophils</tspan></text>
<text x="263.6" y="216.6" font-size="11.6" stroke="#000" stroke-width="0.55" style="font-family:'Liberation Sans',sans-serif;font-weight:bold">D</text>
<rect x="284.2" y="212.7" width="160.40" height="124.60" fill="#e5e5e5"/>
<line x1="284.2" y1="309.55" x2="444.6" y2="309.55" stroke="#f2f2f2" stroke-width="0.5"/>
<line x1="284.2" y1="265.05" x2="444.6" y2="265.05" stroke="#f2f2f2" stroke-width="0.5"/>
<line x1="284.2" y1="220.55" x2="444.6" y2="220.55" stroke="#f2f2f2" stroke-width="0.5"/>
<line x1="284.2" y1="287.30" x2="444.6" y2="287.30" stroke="#fff" stroke-width="0.9"/>
<line x1="284.2" y1="242.80" x2="444.6" y2="242.80" stroke="#fff" stroke-width="0.9"/>
<rect x="284.2" y="332.2" width="160.40" height="5.1" fill="#ebe9ec"/>
<line x1="289.55" y1="212.7" x2="289.55" y2="337.3" stroke="#f3f3f3" stroke-width="0.8"/>
<line x1="294.21" y1="212.7" x2="294.21" y2="337.3" stroke="#ebebeb" stroke-width="0.6"/>
<line x1="298.87" y1="212.7" x2="298.87" y2="337.3" stroke="#f3f3f3" stroke-width="0.8"/>
<line x1="303.53" y1="212.7" x2="303.53" y2="337.3" stroke="#ebebeb" stroke-width="0.6"/>
<line x1="308.19" y1="212.7" x2="308.19" y2="337.3" stroke="#f3f3f3" stroke-width="0.8"/>
<line x1="312.85" y1="212.7" x2="312.85" y2="337.3" stroke="#ebebeb" stroke-width="0.6"/>
<line x1="317.51" y1="212.7" x2="317.51" y2="337.3" stroke="#f3f3f3" stroke-width="0.8"/>
<line x1="322.17" y1="212.7" x2="322.17" y2="337.3" stroke="#ebebeb" stroke-width="0.6"/>
<line x1="326.83" y1="212.7" x2="326.83" y2="337.3" stroke="#f3f3f3" stroke-width="0.8"/>
<line x1="331.49" y1="212.7" x2="331.49" y2="337.3" stroke="#ebebeb" stroke-width="0.6"/>
<line x1="336.15" y1="212.7" x2="336.15" y2="337.3" stroke="#f3f3f3" stroke-width="0.8"/>
<line x1="340.81" y1="212.7" x2="340.81" y2="337.3" stroke="#ebebeb" stroke-width="0.6"/>
<line x1="345.47" y1="212.7" x2="345.47" y2="337.3" stroke="#f3f3f3" stroke-width="0.8"/>
<line x1="350.13" y1="212.7" x2="350.13" y2="337.3" stroke="#ebebeb" stroke-width="0.6"/>
<line x1="354.79" y1="212.7" x2="354.79" y2="337.3" stroke="#f3f3f3" stroke-width="0.8"/>
<line x1="359.45" y1="212.7" x2="359.45" y2="337.3" stroke="#ebebeb" stroke-width="0.6"/>
<line x1="364.11" y1="212.7" x2="364.11" y2="337.3" stroke="#f3f3f3" stroke-width="0.8"/>
<line x1="368.77" y1="212.7" x2="368.77" y2="337.3" stroke="#ebebeb" stroke-width="0.6"/>
<line x1="373.43" y1="212.7" x2="373.43" y2="337.3" stroke="#f3f3f3" stroke-width="0.8"/>
<line x1="378.09" y1="212.7" x2="378.09" y2="337.3" stroke="#ebebeb" stroke-width="0.6"/>
<line x1="382.75" y1="212.7" x2="382.75" y2="337.3" stroke="#f3f3f3" stroke-width="0.8"/>
<line x1="387.41" y1="212.7" x2="387.41" y2="337.3" stroke="#ebebeb" stroke-width="0.6"/>
<line x1="392.07" y1="212.7" x2="392.07" y2="337.3" stroke="#f3f3f3" stroke-width="0.8"/>
<line x1="396.73" y1="212.7" x2="396.73" y2="337.3" stroke="#ebebeb" stroke-width="0.6"/>
<line x1="401.39" y1="212.7" x2="401.39" y2="337.3" stroke="#f3f3f3" stroke-width="0.8"/>
<line x1="406.05" y1="212.7" x2="406.05" y2="337.3" stroke="#ebebeb" stroke-width="0.6"/>
<line x1="410.71" y1="212.7" x2="410.71" y2="337.3" stroke="#f3f3f3" stroke-width="0.8"/>
<line x1="415.37" y1="212.7" x2="415.37" y2="337.3" stroke="#ebebeb" stroke-width="0.6"/>
<line x1="420.03" y1="212.7" x2="420.03" y2="337.3" stroke="#f3f3f3" stroke-width="0.8"/>
<line x1="424.69" y1="212.7" x2="424.69" y2="337.3" stroke="#ebebeb" stroke-width="0.6"/>
<line x1="429.35" y1="212.7" x2="429.35" y2="337.3" stroke="#f3f3f3" stroke-width="0.8"/>
<line x1="434.01" y1="212.7" x2="434.01" y2="337.3" stroke="#ebebeb" stroke-width="0.6"/>
<line x1="438.67" y1="212.7" x2="438.67" y2="337.3" stroke="#f3f3f3" stroke-width="0.8"/>
<line x1="443.33" y1="212.7" x2="443.33" y2="337.3" stroke="#ebebeb" stroke-width="0.6"/>
<rect x="285.50" y="311.6" width="4.05" height="20.20" fill="#ee0000"/>
<rect x="289.55" y="307.8" width="4.05" height="24.00" fill="#22eef2"/>
<text transform="translate(290.85 339.3) rotate(-90)" font-size="3.45" text-anchor="end" stroke="#111" stroke-width="0.12" style="font-family:'Liberation Serif',serif;font-weight:bold" fill="#111">Calcium binding prot.</text>
<rect x="294.82" y="304.0" width="4.05" height="27.80" fill="#ee0000"/>
<rect x="298.87" y="305.7" width="4.05" height="26.10" fill="#22eef2"/>
<text transform="translate(300.17 339.3) rotate(-90)" font-size="3.45" text-anchor="end" stroke="#111" stroke-width="0.12" style="font-family:'Liberation Serif',serif;font-weight:bold" fill="#111">Cell adhesion mol.</text>
<rect x="304.14" y="297.2" width="4.05" height="34.60" fill="#ee0000"/>
<rect x="308.19" y="287.6" width="4.05" height="44.20" fill="#22eef2"/>
<text transform="translate(309.49 339.3) rotate(-90)" font-size="3.45" text-anchor="end" stroke="#111" stroke-width="0.12" style="font-family:'Liberation Serif',serif;font-weight:bold" fill="#111">Cytoskeletal prot.</text>
<rect x="313.46" y="270.1" width="4.05" height="61.70" fill="#ee0000"/>
<rect x="317.51" y="311.6" width="4.05" height="20.20" fill="#22eef2"/>
<text transform="translate(318.81 339.3) rotate(-90)" font-size="3.45" text-anchor="end" stroke="#7a2a9a" stroke-width="0.12" style="font-family:'Liberation Serif',serif;font-weight:bold" fill="#7a2a9a">Immune / Defense prot.</text>
<rect x="322.78" y="271.8" width="4.05" height="60.00" fill="#ee0000"/>
<rect x="326.83" y="262.3" width="4.05" height="69.50" fill="#22eef2"/>
<text transform="translate(328.13 339.3) rotate(-90)" font-size="3.45" text-anchor="end" stroke="#111" stroke-width="0.12" style="font-family:'Liberation Serif',serif;font-weight:bold" fill="#111">Enzyme modulator</text>
<rect x="332.10" y="314.2" width="4.05" height="17.60" fill="#ee0000"/>
<rect x="336.15" y="306.2" width="4.05" height="25.60" fill="#22eef2"/>
<text transform="translate(337.45 339.3) rotate(-90)" font-size="3.45" text-anchor="end" stroke="#111" stroke-width="0.12" style="font-family:'Liberation Serif',serif;font-weight:bold" fill="#111">Extracellular mat. prot.</text>
<rect x="341.42" y="255.9" width="4.05" height="75.90" fill="#ee0000"/>
<rect x="345.47" y="265.0" width="4.05" height="66.80" fill="#22eef2"/>
<text transform="translate(346.77 339.3) rotate(-90)" font-size="3.45" text-anchor="end" stroke="#111" stroke-width="0.12" style="font-family:'Liberation Serif',serif;font-weight:bold" fill="#111">Hydrolase</text>
<rect x="350.74" y="300.8" width="4.05" height="31.00" fill="#ee0000"/>
<rect x="354.79" y="302.8" width="4.05" height="29.00" fill="#22eef2"/>
<text transform="translate(356.09 339.3) rotate(-90)" font-size="3.45" text-anchor="end" stroke="#111" stroke-width="0.12" style="font-family:'Liberation Serif',serif;font-weight:bold" fill="#111">Kinase</text>
<rect x="360.06" y="255.2" width="4.05" height="76.60" fill="#ee0000"/>
<rect x="364.11" y="239.9" width="4.05" height="91.90" fill="#22eef2"/>
<text transform="translate(365.41 339.3) rotate(-90)" font-size="3.45" text-anchor="end" stroke="#111" stroke-width="0.12" style="font-family:'Liberation Serif',serif;font-weight:bold" fill="#111">Nucleic acid binding</text>
<rect x="369.38" y="305.5" width="4.05" height="26.30" fill="#ee0000"/>
<rect x="373.43" y="306.2" width="4.05" height="25.60" fill="#22eef2"/>
<text transform="translate(374.73 339.3) rotate(-90)" font-size="3.45" text-anchor="end" stroke="#111" stroke-width="0.12" style="font-family:'Liberation Serif',serif;font-weight:bold" fill="#111">Oxidoreductase</text>
<rect x="378.70" y="300.6" width="4.05" height="31.20" fill="#ee0000"/>
<rect x="382.75" y="309.5" width="4.05" height="22.30" fill="#22eef2"/>
<text transform="translate(384.05 339.3) rotate(-90)" font-size="3.45" text-anchor="end" stroke="#111" stroke-width="0.12" style="font-family:'Liberation Serif',serif;font-weight:bold" fill="#111">Protease</text>
<rect x="388.02" y="222.2" width="4.05" height="109.60" fill="#ee0000"/>
<rect x="392.07" y="268.1" width="4.05" height="63.70" fill="#22eef2"/>
<text transform="translate(393.37 339.3) rotate(-90)" font-size="3.45" text-anchor="end" stroke="#7a2a9a" stroke-width="0.12" style="font-family:'Liberation Serif',serif;font-weight:bold" fill="#7a2a9a">Receptor</text>
<rect x="397.34" y="267.0" width="4.05" height="64.80" fill="#ee0000"/>
<rect x="401.39" y="279.5" width="4.05" height="52.30" fill="#22eef2"/>
<text transform="translate(402.69 339.3) rotate(-90)" font-size="3.45" text-anchor="end" stroke="#111" stroke-width="0.12" style="font-family:'Liberation Serif',serif;font-weight:bold" fill="#111">Signaling mol.</text>
<rect x="406.66" y="270.1" width="4.05" height="61.70" fill="#ee0000"/>
<rect x="410.71" y="218.3" width="4.05" height="113.50" fill="#22eef2"/>
<text transform="translate(412.01 339.3) rotate(-90)" font-size="3.45" text-anchor="end" stroke="#7a2a9a" stroke-width="0.12" style="font-family:'Liberation Serif',serif;font-weight:bold" fill="#7a2a9a">Transcription factor</text>
<rect x="415.98" y="316.9" width="4.05" height="14.90" fill="#ee0000"/>
<rect x="420.03" y="313.7" width="4.05" height="18.10" fill="#22eef2"/>
<text transform="translate(421.33 339.3) rotate(-90)" font-size="3.45" text-anchor="end" stroke="#111" stroke-width="0.12" style="font-family:'Liberation Serif',serif;font-weight:bold" fill="#111">Transfer / Carrier prot.</text>
<rect x="425.30" y="275.9" width="4.05" height="55.90" fill="#ee0000"/>
<rect x="429.35" y="266.0" width="4.05" height="65.80" fill="#22eef2"/>
<text transform="translate(430.65 339.3) rotate(-90)" font-size="3.45" text-anchor="end" stroke="#111" stroke-width="0.12" style="font-family:'Liberation Serif',serif;font-weight:bold" fill="#111">Transferase</text>
<rect x="434.62" y="294.2" width="4.05" height="37.60" fill="#ee0000"/>
<rect x="438.67" y="290.0" width="4.05" height="41.80" fill="#22eef2"/>
<text transform="translate(439.97 339.3) rotate(-90)" font-size="3.45" text-anchor="end" stroke="#111" stroke-width="0.12" style="font-family:'Liberation Serif',serif;font-weight:bold" fill="#111">Transporter</text>
<text x="283" y="332.90" font-size="3.4" text-anchor="end" style="font-family:'Liberation Sans',sans-serif;font-weight:bold">0</text>
<text x="283" y="288.40" font-size="3.4" text-anchor="end" style="font-family:'Liberation Sans',sans-serif;font-weight:bold">5</text>
<text x="283" y="243.90" font-size="3.4" text-anchor="end" style="font-family:'Liberation Sans',sans-serif;font-weight:bold">10</text>
<text transform="translate(275.2 274.6) rotate(-90)" font-size="7.85" text-anchor="middle" stroke="#111" stroke-width="0.15" style="font-family:'Liberation Sans',sans-serif;font-weight:bold" fill="#111">% of genes</text>
</svg>
</body></html>
